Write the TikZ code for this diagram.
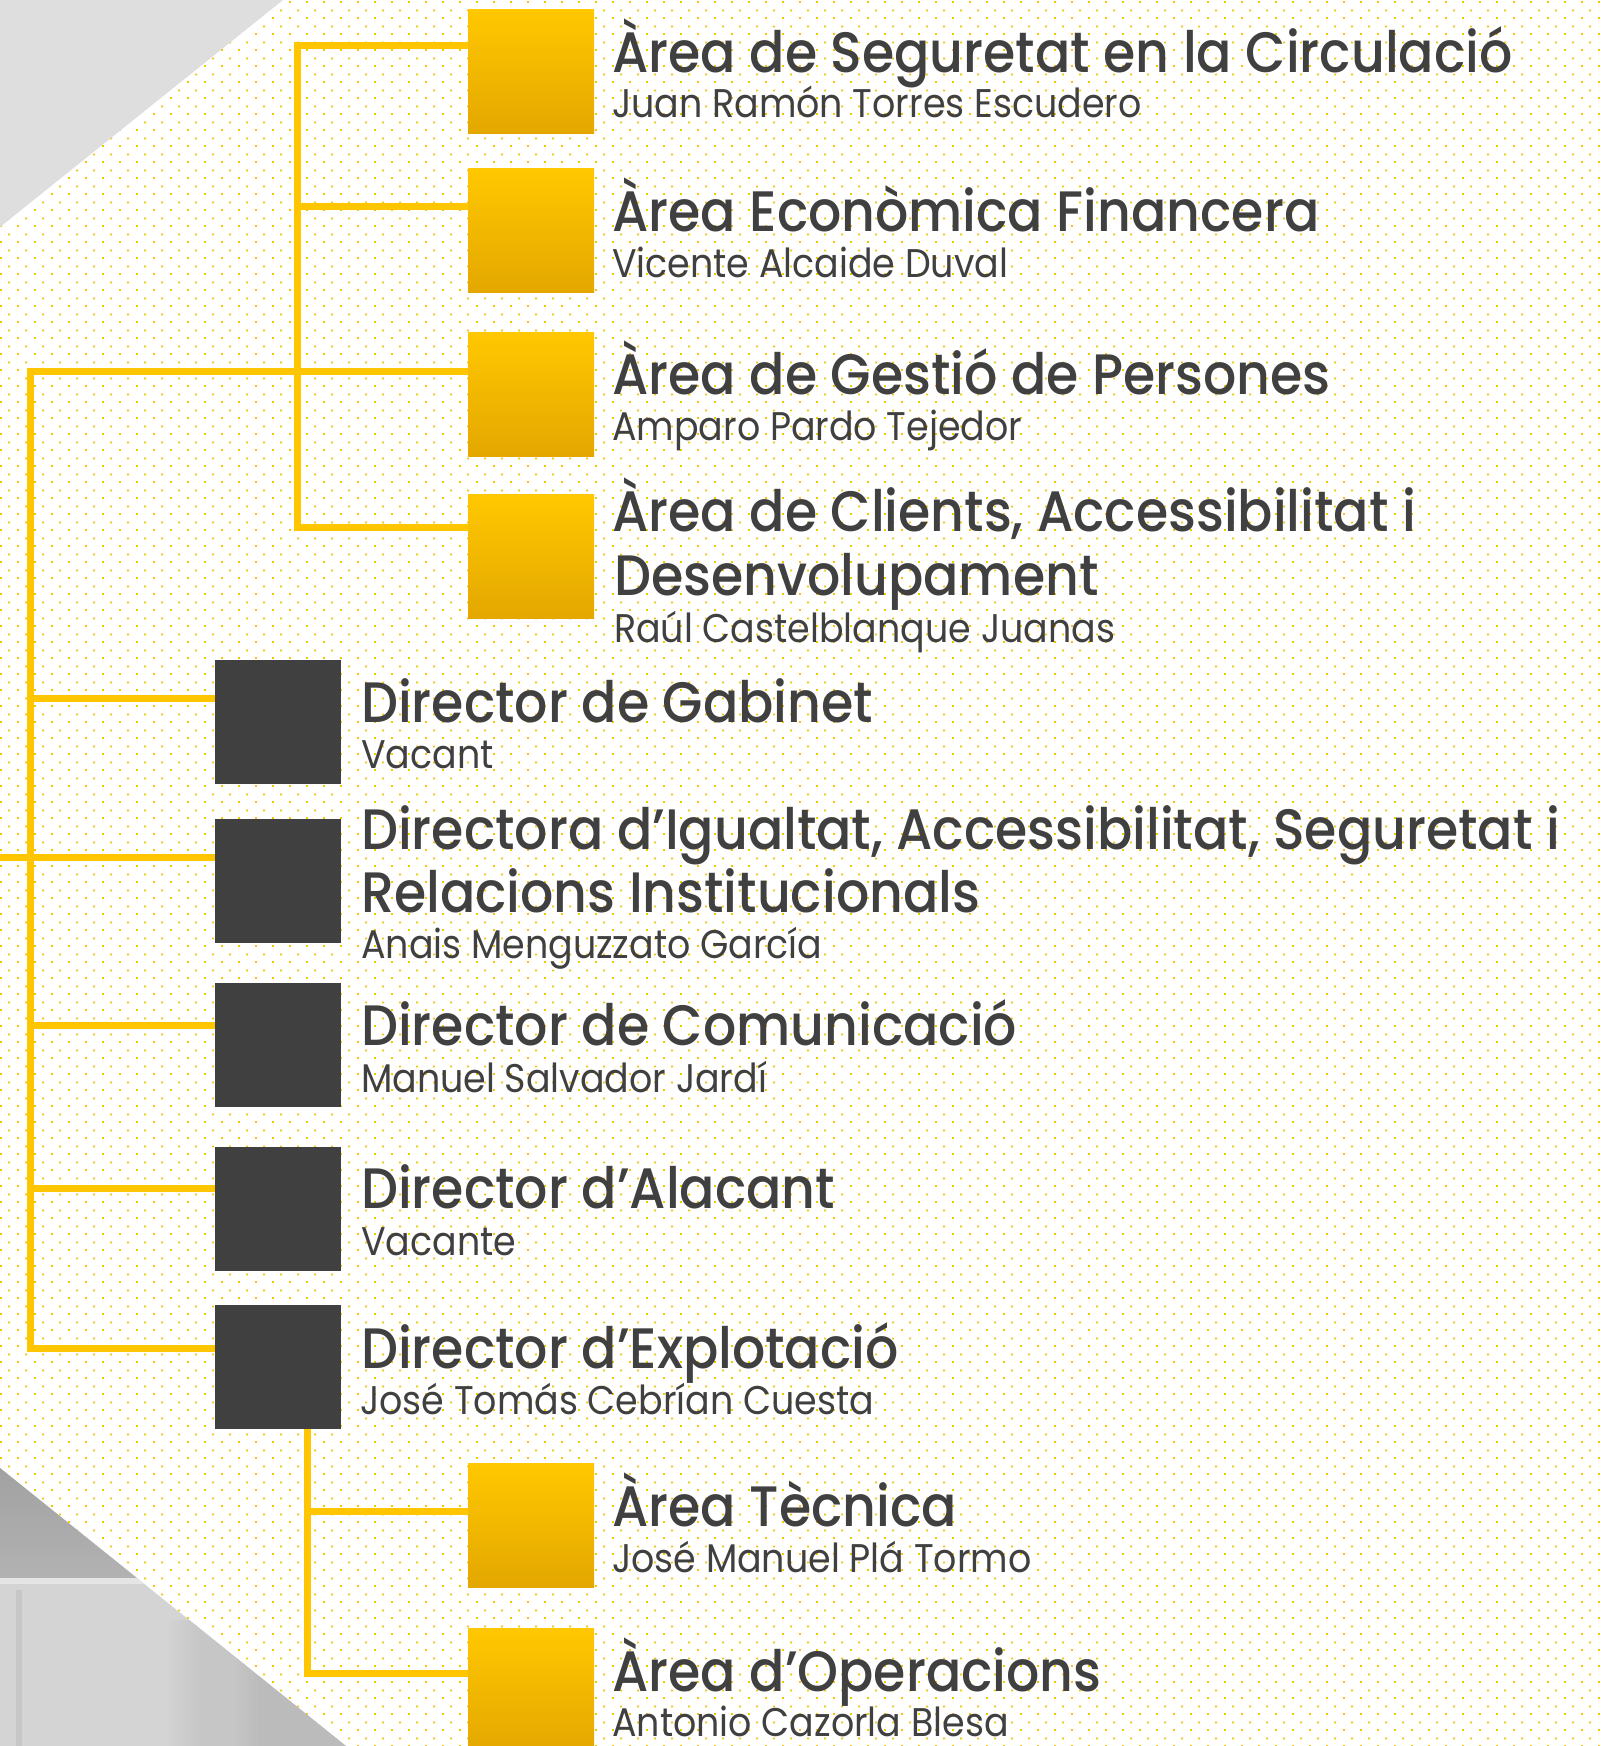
\documentclass[tikz,border=0pt]{standalone}
\usepackage{fontspec}
\setmainfont{Poppins}
\newfontfamily\tfont{Poppins Medium}[FakeStretch=0.915]
\newfontfamily\nfont{Poppins}[FakeStretch=0.91]
\usetikzlibrary{patterns}
\definecolor{lineY}{HTML}{FFC600}
\definecolor{dotY}{HTML}{F9C300}
\definecolor{yTop}{HTML}{FFC800}
\definecolor{yBot}{HTML}{E3A700}
\definecolor{darkB}{HTML}{404040}
\definecolor{txt}{HTML}{404040}
\definecolor{triG}{HTML}{DEDEDE}
\definecolor{phLight}{HTML}{D4D4D4}
\definecolor{phDark}{HTML}{B2B2B2}
\definecolor{phMid}{HTML}{C6C6C6}
\definecolor{phEdge}{HTML}{BBBBBB}
\pgfdeclarepatternformonly{ydots}{\pgfqpoint{0pt}{0pt}}{\pgfqpoint{16.6pt}{16pt}}{\pgfqpoint{16.6pt}{16pt}}{%
  \pgfpathrectangle{\pgfqpoint{0pt}{0pt}}{\pgfqpoint{2pt}{2pt}}%
  \pgfpathrectangle{\pgfqpoint{8.3pt}{8pt}}{\pgfqpoint{2pt}{2pt}}%
  \pgfusepath{fill}%
}
\tikzset{
  ybox/.style={rectangle, minimum width=126, minimum height=124, inner sep=0, top color=yTop, bottom color=yBot, draw=none},
  dbox/.style={rectangle, minimum width=126, minimum height=124, inner sep=0, fill=darkB, draw=none},
  conn/.style={draw=lineY, line width=7, line join=miter},
  ttl/.style={anchor=base west, inner sep=0, text=txt, font=\tfont\fontsize{57}{60}\selectfont},
  nme/.style={anchor=base west, inner sep=0, text=txt, font=\nfont\fontsize{40}{44}\selectfont},
}
\begin{document}
\begin{tikzpicture}[x=1pt,y=-1pt]
\useasboundingbox (0,0) rectangle (1605,1746);
% background
\fill[white] (0,0) rectangle (1605,1746);
\fill[pattern=ydots, pattern color=dotY] (0,0) rectangle (1605,1746);
% top-left grey triangle
\fill[triG] (0,0) -- (283,0) -- (0,227) -- cycle;
% bottom-left photo triangle
\begin{scope}
  \clip (0,1468) -- (346,1746) -- (0,1746) -- cycle;
  \fill[phLight] (0,1460) rectangle (360,1746);
  \shade[top color=phDark!90!black, bottom color=phDark] (0,1460) rectangle (360,1578);
  \fill[phLight!60!white] (0,1578) rectangle (360,1584);
  \fill[phMid] (16,1590) rectangle (22,1746);
  \shade[left color=phLight, right color=phMid] (165,1620) rectangle (200,1746);
  \fill[phMid] (200,1620) rectangle (232,1746);
  \shade[left color=phMid, right color=phEdge] (232,1640) rectangle (260,1746);
  \fill[phEdge] (260,1640) rectangle (360,1746);
\end{scope}
% coordinates for connectors
\coordinate (a0) at (297,45);
\coordinate (a1) at (297,206);
\coordinate (a3) at (297,527);
\coordinate (b0) at (30,371);
\coordinate (b1) at (30,698);
\coordinate (b2) at (0,857);
\coordinate (b3) at (30,1025);
\coordinate (b4) at (30,1188);
\coordinate (b5) at (30,1348);
\coordinate (c1) at (307,1511);
\coordinate (c2) at (307,1673);
% boxes
\node[ybox] (y1) at (531,71.5) {};
\node[ybox] (y2) at (531,230.5) {};
\node[ybox] (y3) at (531,394) {};
\node[ybox] (y4) at (531,556.5) {};
\node[dbox] (d1) at (278,722) {};
\node[dbox] (d2) at (278,880.5) {};
\node[dbox] (d3) at (278,1045) {};
\node[dbox] (d4) at (278,1209) {};
\node[dbox] (d5) at (278,1367) {};
\node[ybox] (y5) at (531,1525) {};
\node[ybox] (y6) at (531,1690) {};
% connectors
\draw[conn] (a0 -| y1.west) -- (a0) -- (a3) -- (a3 -| y4.west);
\draw[conn] (a1) -- (a1 -| y2.west);
\draw[conn] (b0 -| y3.west) -- (b0) -- (b5) -- (b5 -| d5.west);
\draw[conn] (b1) -- (b1 -| d1.west);
\draw[conn] (b2) -- (b2 -| d2.west);
\draw[conn] (b3) -- (b3 -| d3.west);
\draw[conn] (b4) -- (b4 -| d4.west);
\draw[conn] (d5.south -| c1) -- (c2) -- (c2 -| y6.west);
\draw[conn] (c1) -- (c1 -| y5.west);
% texts
\node[ttl] (t1) at (612,72) {Àrea de Seguretat en la Circulació};
\node[nme] (n1) at (612,117) {Juan Ramón Torres Escudero};
\node[ttl] (t2) at (612,231) {Àrea Econòmica Financera};
\node[nme] (n2) at (612,277) {Vicente Alcaide Duval};
\node[ttl] (t3) at (612,394) {Àrea de Gestió de Persones};
\node[nme] (n3) at (612,440) {Amparo Pardo Tejedor};
\node[ttl] (t4a) at (612,531) {Àrea de Clients, Accessibilitat i};
\node[ttl] (t4b) at (614,595) {Desenvolupament};
\node[nme] (n4) at (614,642) {Raúl Castelblanque Juanas};
\node[ttl] (t5) at (361,722) {Director de Gabinet};
\node[nme] (n5) at (361,768) {Vacant};
\node[ttl] (t6a) at (361,849) {Directora d’Igualtat, Accessibilitat, Seguretat i};
\node[ttl] (t6b) at (361,912) {Relacions Institucionals};
\node[nme] (n6) at (361,958) {Anais Menguzzato García};
\node[ttl] (t7) at (361,1045) {Director de Comunicació};
\node[nme] (n7) at (361,1092) {Manuel Salvador Jardí};
\node[ttl] (t8) at (361,1208) {Director d’Alacant};
\node[nme] (n8) at (361,1255) {Vacante};
\node[ttl] (t9) at (361,1368) {Director d’Explotació};
\node[nme] (n9) at (360,1414) {José Tomás Cebrían Cuesta};
\node[ttl] (t10) at (612,1526) {Àrea Tècnica};
\node[nme] (n10) at (612,1572) {José Manuel Plá Tormo};
\node[ttl] (t11) at (612,1691) {Àrea d’Operacions};
\node[nme] (n11) at (612,1736) {Antonio Cazorla Blesa};
\end{tikzpicture}
\end{document}
